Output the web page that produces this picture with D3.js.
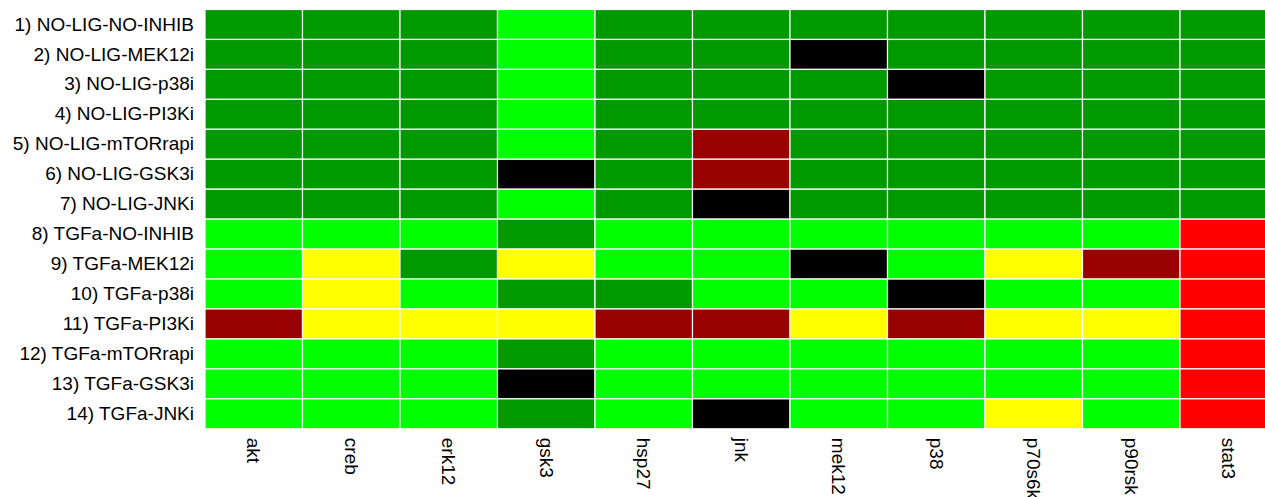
<!DOCTYPE html>
<html>
<head>
<meta charset="utf-8">
<script src="https://cdn.jsdelivr.net/npm/d3@7"></script>
<style>
  html, body { margin: 0; padding: 0; background: #fff; overflow: hidden; }
  svg { display: block; }
  text { font-family: "Liberation Sans", Arial, sans-serif; fill: #000; }
</style>
</head>
<body>
<svg id="chart" width="1265" height="497"></svg>
<script>
// Column (readout) labels
const columns = ["akt", "creb", "erk12", "gsk3", "hsp27", "jnk", "mek12", "p38", "p70s6k", "p90rsk", "stat3"];
// Row (condition) labels
const rows = [
  "1) NO-LIG-NO-INHIB",
  "2) NO-LIG-MEK12i",
  "3) NO-LIG-p38i",
  "4) NO-LIG-PI3Ki",
  "5) NO-LIG-mTORrapi",
  "6) NO-LIG-GSK3i",
  "7) NO-LIG-JNKi",
  "8) TGFa-NO-INHIB",
  "9) TGFa-MEK12i",
  "10) TGFa-p38i",
  "11) TGFa-PI3Ki",
  "12) TGFa-mTORrapi",
  "13) TGFa-GSK3i",
  "14) TGFa-JNKi"
];
// Cell categories: D = dark green, G = bright green, Y = yellow, R = dark red, E = red, K = black
const values = [
  ["D","D","D","G","D","D","D","D","D","D","D"],
  ["D","D","D","G","D","D","K","D","D","D","D"],
  ["D","D","D","G","D","D","D","K","D","D","D"],
  ["D","D","D","G","D","D","D","D","D","D","D"],
  ["D","D","D","G","D","R","D","D","D","D","D"],
  ["D","D","D","K","D","R","D","D","D","D","D"],
  ["D","D","D","G","D","K","D","D","D","D","D"],
  ["G","G","G","D","G","G","G","G","G","G","E"],
  ["G","Y","D","Y","G","G","K","G","Y","R","E"],
  ["G","Y","G","D","D","G","G","K","G","G","E"],
  ["R","Y","Y","Y","R","R","Y","R","Y","Y","E"],
  ["G","G","G","D","G","G","G","G","G","G","E"],
  ["G","G","G","K","G","G","G","G","G","G","E"],
  ["G","G","G","D","G","K","G","G","Y","G","E"]
];
const categories = ["D", "G", "Y", "R", "E", "K"];
const palette = ["#009900", "#00ff00", "#ffff00", "#990000", "#ff0000", "#000000"];

const svg = d3.select("#chart");
const gridLeft = 205, gridTop = 9.5, cellW = 97.5, cellH = 29.95;

const x = d3.scaleBand().domain(columns).range([gridLeft, gridLeft + cellW * columns.length]).padding(0);
const y = d3.scaleBand().domain(rows).range([gridTop, gridTop + cellH * rows.length]).padding(0);
const color = d3.scaleOrdinal().domain(categories).range(palette);

const cells = [];
values.forEach((r, i) => r.forEach((v, j) => cells.push({ row: rows[i], col: columns[j], v })));

svg.append("g").selectAll("rect")
  .data(cells)
  .join("rect")
  .attr("x", d => x(d.col))
  .attr("y", d => y(d.row))
  .attr("width", x.bandwidth())
  .attr("height", y.bandwidth())
  .attr("fill", d => color(d.v))
  .attr("stroke", "#ffffff")
  .attr("stroke-width", 1.2);

// Row labels
const yAxis = d3.axisLeft(y).tickSize(0).tickPadding(0);
const gy = svg.append("g").attr("transform", `translate(${gridLeft - 11},0)`).call(yAxis);
gy.select(".domain").remove();
gy.selectAll("text")
  .style("font-size", "19px")
  .style("font-family", "'Liberation Sans', Arial, sans-serif")
  .attr("fill", "#000");

// Column labels (rotated, reading top to bottom)
const xAxis = d3.axisBottom(x).tickSize(0).tickPadding(0);
const gridBottom = gridTop + cellH * rows.length;
const gx = svg.append("g").attr("transform", `translate(0,${gridBottom + 9})`).call(xAxis);
gx.select(".domain").remove();
gx.selectAll("text")
  .style("font-size", "19px")
  .style("font-family", "'Liberation Sans', Arial, sans-serif")
  .attr("fill", "#000")
  .attr("y", 0)
  .attr("dy", null)
  .attr("x", 0)
  .attr("text-anchor", "start")
  .attr("dominant-baseline", "central")
  .attr("transform", "rotate(90)");
</script>
</body>
</html>
